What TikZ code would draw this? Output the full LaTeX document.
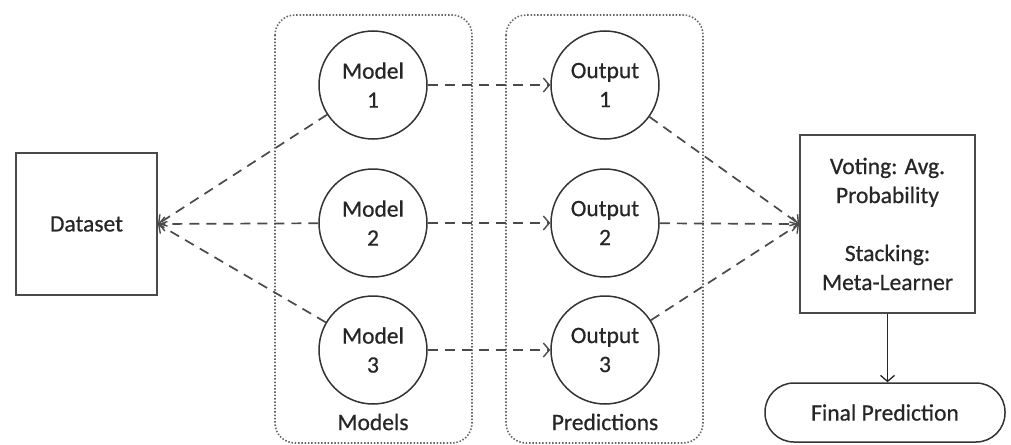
\documentclass[tikz,border=0pt]{standalone}
\usepackage{fontspec}
\setmainfont[FakeBold=0.6]{Carlito}
\usetikzlibrary{arrows.meta}
\definecolor{txt}{HTML}{262626}
\definecolor{ln}{HTML}{4A4A4A}
\tikzset{
  every node/.style={text=txt, font=\fontsize{23.5}{29}\selectfont, align=center},
  circ/.style={circle, draw=black!80, line width=1.5pt, minimum size=108pt, inner sep=0pt},
  sqbox/.style={rectangle, draw=ln, line width=1.8pt, inner sep=0pt},
  group/.style={draw=black!60, line width=1.6pt, dash pattern=on 1.5pt off 1.8pt, rounded corners=20pt},
  conn/.style={draw=ln, line width=1.7pt, dash pattern=on 10pt off 7pt, -{Straight Barb[length=6pt,width=14pt,line width=1.4pt]}},
  solidarrow/.style={draw=black!85, line width=1.3pt, -{Straight Barb[length=6pt,width=14pt,line width=1.3pt]}},
  final/.style={rectangle, draw=black!80, line width=1.5pt, rounded corners=29pt, minimum width=240pt, minimum height=59pt, inner sep=0pt}
}
\begin{document}
\begin{tikzpicture}[x=1pt,y=-1pt]
\useasboundingbox (0,0) rectangle (1011,444);
% groups
\draw[group] (275,15) rectangle (472,443);
\draw[group] (506,15) rectangle (703,443);
\node (lm) at (373,422) {Models};
\node (lp) at (605,422) {Predictions};
% nodes
\node[sqbox, minimum width=141pt, minimum height=142pt] (ds) at (86.5,224) {Dataset};
\node[circ] (m1) at (373,85) {Model\\1};
\node[circ] (m2) at (373,223) {Model\\2};
\node[circ] (m3) at (373,350) {Model\\3};
\node[circ] (o1) at (605,85) {Output\\1};
\node[circ] (o2) at (605,223) {Output\\2};
\node[circ] (o3) at (605,350) {Output\\3};
\node[sqbox, minimum width=175pt, minimum height=178pt] (rb) at (887.5,224) {Voting: Avg.\\Probability\\[29pt]Stacking:\\Meta-Learner};
\node[final] (fp) at (885,412.5) {Final Prediction};
% connectors
\foreach \m in {m1,m2,m3} \draw[conn] (\m) -- (ds.east);
\draw[conn] (m1) -- (o1);
\draw[conn] (m2) -- (o2);
\draw[conn] (m3) -- (o3);
\foreach \o in {o1,o2,o3} \draw[conn] (\o) -- (rb.west);
\draw[solidarrow] (rb.south) -- (rb.south |- fp.north);
\end{tikzpicture}
\end{document}
